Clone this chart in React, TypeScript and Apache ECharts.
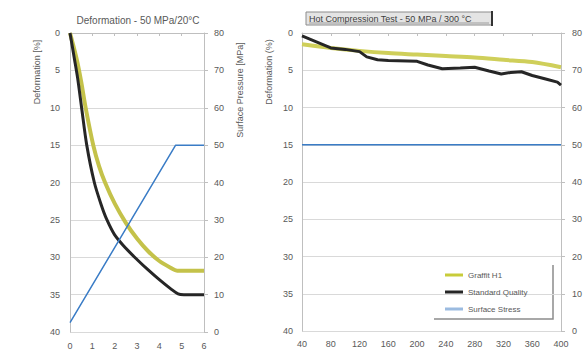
import React, { useEffect, useRef } from "react";
import * as echarts from "echarts";

// Left chart: Deformation - 50 MPa/20°C
const leftGrafit: [number, number][] = [
  [0, 0], [0.3, 3.5], [0.5, 6.5], [0.7, 10], [1.04, 15], [1.3, 17.8], [1.57, 20],
  [2.0, 22.8], [2.5, 25.4], [3.0, 27.5], [3.5, 29.2], [4.0, 30.5], [4.5, 31.4],
  [4.8, 31.8], [5.0, 31.8], [6, 31.8],
];
const leftStandard: [number, number][] = [
  [0, 0], [0.2, 3.5], [0.34, 6], [0.52, 10], [0.75, 15], [1.09, 20], [1.4, 23],
  [1.64, 24.9], [2.0, 27.0], [2.5, 28.8], [3.0, 30.3], [3.5, 31.7], [4.0, 33.0],
  [4.5, 34.2], [4.84, 34.9], [5.1, 35], [6, 35],
];
const leftPressure: [number, number][] = [[0, 2.5], [4.73, 50], [6, 50]];

// Right chart: Hot Compression Test - 50 MPa / 300 °C
const rightGrafit: [number, number][] = [
  [40, 1.5], [80, 2.0], [120, 2.4], [160, 2.7], [200, 2.9], [240, 3.1],
  [280, 3.3], [320, 3.6], [360, 3.9], [400, 4.6],
];
const rightStandard: [number, number][] = [
  [40, 0.4], [60, 1.2], [80, 2.0], [100, 2.2], [120, 2.5], [130, 3.2], [145, 3.6],
  [160, 3.7], [200, 3.8], [215, 4.3], [235, 4.8], [260, 4.7], [280, 4.6], [300, 5.1],
  [317, 5.5], [330, 5.3], [345, 5.2], [360, 5.7], [380, 6.2], [395, 6.6], [400, 7.0],
];
const rightStress: [number, number][] = [
  [40, 50], [80, 50], [120, 50], [160, 50], [200, 50], [240, 50], [280, 50],
  [320, 50], [360, 50], [400, 50],
];

const seriesNames = ["Graffit H1", "Standard Quality", "Surface Stress"];
const leftTitle = "Deformation - 50 MPa/20°C";
const rightTitle = "Hot Compression Test - 50 MPa / 300 °C";

const FONT = "Liberation Sans";
const LABEL = "#595959";
const GRID = "#d9d9d9";
const AXIS = "#bfbfbf";
const YELLOW = "#c4c24a";
const BLACK = "#262626";
const BLUE = "#3a7cc6";

export default function App() {
  const ref = useRef<HTMLDivElement>(null);
  useEffect(() => {
    if (!ref.current) return;
    const chart = echarts.init(ref.current, undefined, { renderer: "svg" });
    const axisLabel = { color: LABEL, fontSize: 9, fontFamily: FONT };
    const yBase = (extra: any) => ({
      type: "value",
      axisLine: { show: true, lineStyle: { color: AXIS } },
      axisTick: { show: true, length: 4, lineStyle: { color: AXIS } },
      ...extra,
    });
    chart.setOption({
      animation: false,
      backgroundColor: "#ffffff",
      textStyle: { fontFamily: FONT },
      grid: [
        { left: 70, top: 33, width: 134, height: 299 },
        { left: 302, top: 33, width: 261, height: 298 },
      ],
      xAxis: [
        {
          type: "value", gridIndex: 0, min: 0, max: 6, interval: 1,
          axisLine: { lineStyle: { color: AXIS } },
          axisTick: { show: true, length: 3, lineStyle: { color: AXIS } },
          splitLine: { show: false },
          axisLabel: { ...axisLabel, margin: 9 },
        },
        {
          type: "value", gridIndex: 1, min: 40, max: 400, interval: 40,
          axisLine: { lineStyle: { color: AXIS } },
          axisTick: { show: true, length: 3, lineStyle: { color: AXIS } },
          splitLine: { show: false },
          axisLabel: { ...axisLabel, margin: 8 },
        },
      ],
      yAxis: [
        yBase({
          gridIndex: 0, min: 0, max: 40, interval: 5, inverse: true, position: "left",
          axisTick: { show: false },
          splitLine: { show: true, lineStyle: { color: GRID } },
          axisLabel: { ...axisLabel, margin: 10 },
        }),
        yBase({
          gridIndex: 0, min: 0, max: 80, interval: 10, position: "right",
          splitLine: { show: false },
          axisLabel: { ...axisLabel, margin: 10 },
        }),
        yBase({
          gridIndex: 1, min: 0, max: 40, interval: 5, inverse: true, position: "left",
          axisTick: { show: false },
          splitLine: { show: true, lineStyle: { color: GRID } },
          axisLabel: { ...axisLabel, margin: 9 },
        }),
        yBase({
          gridIndex: 1, min: 0, max: 80, interval: 10, position: "right",
          splitLine: { show: false },
          axisLabel: { ...axisLabel, margin: 11 },
        }),
      ],
      legend: {
        orient: "vertical",
        left: 440,
        top: 266,
        itemGap: 9,
        itemWidth: 18,
        itemHeight: 3,
        icon: "rect",
        textStyle: { color: LABEL, fontSize: 8, fontFamily: FONT },
        data: [
          { name: seriesNames[0], itemStyle: { color: "#c8cc3a" } },
          { name: seriesNames[1], itemStyle: { color: BLACK } },
          { name: seriesNames[2], itemStyle: { color: "#9bbbe0" } },
        ],
      },
      series: [
        {
          name: seriesNames[0], type: "line", xAxisIndex: 0, yAxisIndex: 0,
          data: leftGrafit, showSymbol: false, smooth: 0.3,
          lineStyle: { color: YELLOW, width: 4 }, itemStyle: { color: YELLOW },
        },
        {
          name: seriesNames[1], type: "line", xAxisIndex: 0, yAxisIndex: 0,
          data: leftStandard, showSymbol: false, smooth: 0.3,
          lineStyle: { color: BLACK, width: 3 }, itemStyle: { color: BLACK },
        },
        {
          name: seriesNames[2], type: "line", xAxisIndex: 0, yAxisIndex: 1,
          data: leftPressure, showSymbol: false,
          lineStyle: { color: BLUE, width: 1.5 }, itemStyle: { color: BLUE },
        },
        {
          name: seriesNames[0], type: "line", xAxisIndex: 1, yAxisIndex: 2,
          data: rightGrafit, showSymbol: false, smooth: 0.3,
          lineStyle: { color: "#cfcf5a", width: 4 }, itemStyle: { color: YELLOW },
        },
        {
          name: seriesNames[1], type: "line", xAxisIndex: 1, yAxisIndex: 2,
          data: rightStandard, showSymbol: false,
          lineStyle: { color: BLACK, width: 3 }, itemStyle: { color: BLACK },
        },
        {
          name: seriesNames[2], type: "line", xAxisIndex: 1, yAxisIndex: 3,
          data: rightStress, showSymbol: false,
          lineStyle: { color: BLUE, width: 1.5 }, itemStyle: { color: BLUE },
        },
      ],
      graphic: [
        {
          type: "text", x: 138, y: 20,
          style: { text: leftTitle, fontSize: 10, fill: LABEL, fontFamily: FONT, align: "center", verticalAlign: "middle" },
        },
        {
          type: "rect", shape: { x: 306, y: 12, width: 186, height: 13 },
          style: { fill: "#e4e4e4", stroke: "#8c8c8c", lineWidth: 1 },
        },
        {
          type: "line", shape: { x1: 492, y1: 11, x2: 492, y2: 26 },
          style: { stroke: "#333", lineWidth: 2 },
        },
        {
          type: "text", x: 309, y: 18.5,
          style: { text: rightTitle, fontSize: 9, fill: "#404040", fontFamily: FONT, align: "left", verticalAlign: "middle" },
        },
        {
          type: "line", shape: { x1: 309, y1: 23, x2: 489, y2: 23 },
          style: { stroke: "#707070", lineWidth: 0.6 },
        },
        {
          type: "text", x: 37, y: 72, rotation: Math.PI / 2,
          style: { text: "Deformation [%]", fontSize: 9, fill: LABEL, fontFamily: FONT, align: "center", verticalAlign: "middle" },
        },
        {
          type: "text", x: 240, y: 90, rotation: Math.PI / 2,
          style: { text: "Surface Pressure [MPa]", fontSize: 9, fill: LABEL, fontFamily: FONT, align: "center", verticalAlign: "middle" },
        },
        {
          type: "text", x: 269, y: 72, rotation: Math.PI / 2,
          style: { text: "Deformation (%)", fontSize: 9, fill: LABEL, fontFamily: FONT, align: "center", verticalAlign: "middle" },
        },
        {
          type: "rect", z: -1, shape: { x: 432, y: 263, width: 120, height: 55 },
          style: { fill: "#ffffff", stroke: "none" },
        },
        {
          type: "polyline",
          shape: { points: [[553, 265], [553, 319], [434, 319]] },
          style: { stroke: "#8c8c8c", lineWidth: 1.5, fill: "none" },
        },
      ],
    });
    return () => chart.dispose();
  }, []);
  return (
    <div
      ref={ref}
      style={{ position: "fixed", left: 0, top: 0, width: 585, height: 354 }}
    />
  );
}
